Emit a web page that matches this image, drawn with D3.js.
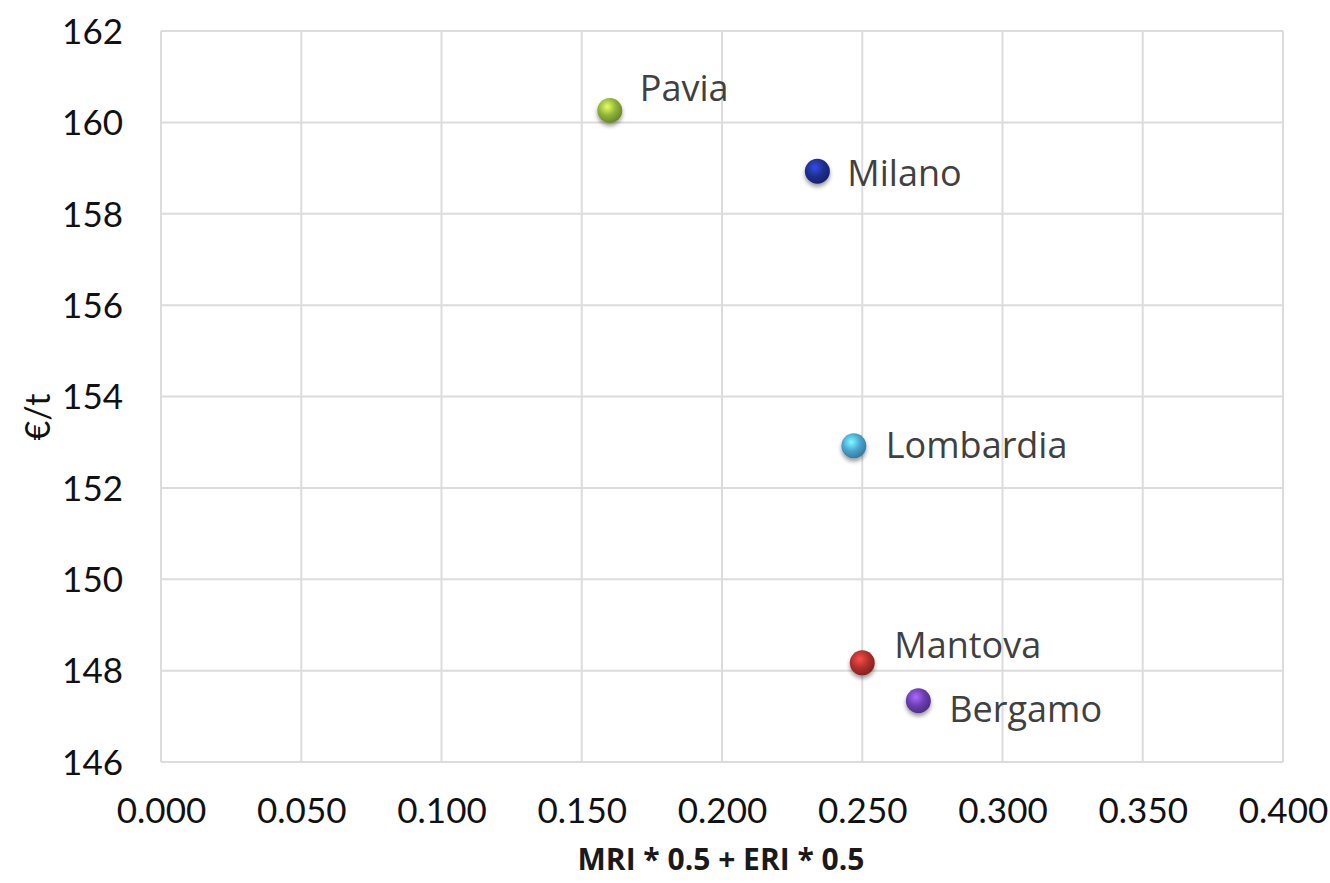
<!DOCTYPE html>
<html><head><meta charset="utf-8">
<script src="https://cdn.jsdelivr.net/npm/d3@7"></script>
<style>body{margin:0;background:#fff;} svg{display:block;}</style>
</head><body>
<svg id="chart" width="1330" height="883"></svg>
<script>
const cities = ["Pavia","Milano","Lombardia","Mantova","Bergamo"];
const xValues = [0.160, 0.234, 0.247, 0.250, 0.270];
const yValues = [160.26, 158.93, 152.92, 148.17, 147.34];
const colors = ["#8db33a","#1f2f8f","#4aa3d0","#b0302c","#6a3fb0"];
const labelDx = [30, 30, 32, 32, 31];
const labelDy = [-22, 2, 0, -17, 9];
const xTicks = [0,0.05,0.1,0.15,0.2,0.25,0.3,0.35,0.4];
const yTicks = [146,148,150,152,154,156,158,160,162];

const svg = d3.select("#chart");
const m = {left:161, right:1283, top:31, bottom:762};
const x = d3.scaleLinear().domain([0,0.4]).range([m.left,m.right]);
const y = d3.scaleLinear().domain([146,162]).range([m.bottom,m.top]);

const defs = svg.append("defs");
colors.forEach((c,i)=>{
  const g = defs.append("radialGradient").attr("id","g"+i).attr("cx","40%").attr("cy","35%").attr("r","65%");
  g.append("stop").attr("offset","0%").attr("stop-color",d3.color(c).brighter(1.4));
  g.append("stop").attr("offset","55%").attr("stop-color",c);
  g.append("stop").attr("offset","100%").attr("stop-color",d3.color(c).darker(0.8));
});
const f = defs.append("filter").attr("id","sh").attr("x","-50%").attr("y","-50%").attr("width","200%").attr("height","200%");
f.append("feGaussianBlur").attr("in","SourceAlpha").attr("stdDeviation",2);
f.append("feOffset").attr("dx",0).attr("dy",3).attr("result","b");
f.append("feComponentTransfer").append("feFuncA").attr("type","linear").attr("slope",0.4);
const fm = f.append("feMerge"); fm.append("feMergeNode"); fm.append("feMergeNode").attr("in","SourceGraphic");

// gridlines
svg.append("g").selectAll("line").data(xTicks).join("line")
  .attr("x1",d=>x(d)).attr("x2",d=>x(d)).attr("y1",m.top).attr("y2",m.bottom)
  .attr("stroke","#dcdcdc").attr("stroke-width",2);
svg.append("g").selectAll("line").data(yTicks).join("line")
  .attr("y1",d=>y(d)).attr("y2",d=>y(d)).attr("x1",m.left).attr("x2",m.right)
  .attr("stroke","#dcdcdc").attr("stroke-width",2);

const font = "Lato, 'Open Sans', sans-serif";
const lfont = "'Open Sans', Lato, sans-serif";
const xa = svg.append("g").attr("transform",`translate(0,${m.bottom})`)
  .call(d3.axisBottom(x).tickValues(xTicks).tickFormat(d3.format(".3f")).tickSize(0).tickPadding(36));
const ya = svg.append("g").attr("transform",`translate(${m.left},0)`)
  .call(d3.axisLeft(y).tickValues(yTicks).tickFormat(d3.format("d")).tickSize(0).tickPadding(38));
[xa,ya].forEach(a=>{a.select(".domain").remove();
  a.selectAll("text").attr("font-family",font).attr("font-size",35).attr("fill","#111");});
ya.selectAll("text").attr("dy","0.35em");

svg.append("text").attr("x",721).attr("y",870).attr("text-anchor","middle")
  .attr("font-family",lfont).attr("font-weight","bold").attr("font-size",30).attr("fill","#1a1a1a")
  .text("MRI * 0.5 + ERI * 0.5");
svg.append("text").attr("transform","translate(50,417) rotate(-90)").attr("text-anchor","middle")
  .attr("font-family",font).attr("font-size",34).attr("fill","#111").text("€/t");

// points
const pts = svg.append("g").selectAll("g").data(cities).join("g");
pts.append("circle").attr("cx",(d,i)=>x(xValues[i])).attr("cy",(d,i)=>y(yValues[i])).attr("r",12.5)
  .attr("fill",(d,i)=>`url(#g${i})`).attr("filter","url(#sh)");
pts.append("text").attr("x",(d,i)=>x(xValues[i])+labelDx[i]).attr("y",(d,i)=>y(yValues[i])+labelDy[i])
  .attr("dy","0.35em").attr("font-family",lfont).attr("font-size",36).attr("fill","#404040").text(d=>d);
</script>
</body></html>
